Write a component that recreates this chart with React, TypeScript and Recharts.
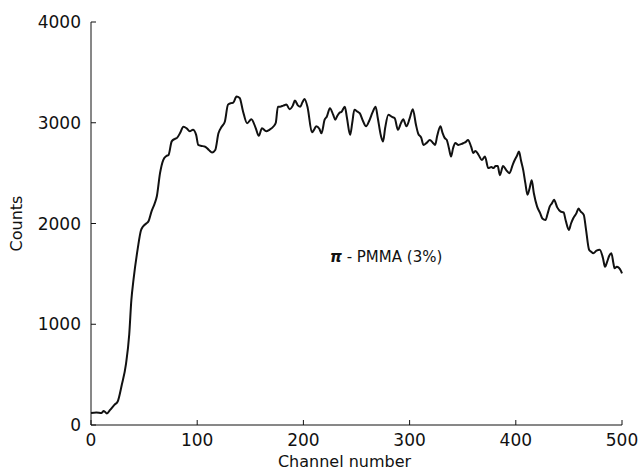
import { LineChart, Line, XAxis, YAxis, Label } from 'recharts'

document.body.style.margin = '0'

// ── Data ──────────────────────────────────────────────────────────────────────

const channels = [
  0, 5, 10, 12, 15, 18, 22, 25, 29, 33, 36, 38, 40, 44, 47, 49, 52, 54, 57, 60,
  62, 65, 68, 71, 73, 76, 79, 81, 84, 87, 90, 93, 96, 99, 101, 104, 107, 111, 114, 117,
  120, 123, 126, 129, 132, 134, 137, 140, 143, 147, 151, 155, 158, 161, 165, 168, 172, 174, 176, 178,
  181, 184, 187, 190, 192, 195, 197, 199, 201, 204, 208, 210, 212, 215, 217, 220, 222, 225, 228, 230,
  232, 234, 236, 239, 241, 244, 246, 248, 251, 253, 256, 259, 262, 265, 268, 270, 273, 275, 277, 280,
  283, 286, 289, 292, 294, 297, 300, 303, 306, 308, 311, 313, 316, 319, 322, 324, 326, 329, 331, 333,
  335, 337, 339, 341, 343, 346, 349, 351, 353, 355, 358, 360, 362, 365, 368, 371, 374, 377, 379, 381,
  383, 385, 388, 391, 394, 397, 399, 401, 403, 405, 407, 409, 411, 413, 415, 417, 420, 423, 425, 428,
  430, 432, 434, 436, 439, 442, 445, 447, 450, 452, 454, 457, 459, 461, 464, 466, 469, 471, 473, 476,
  479, 482, 484, 486, 488, 490, 492, 493, 495, 497, 499, 500,
]

const counts = [
  120, 125, 120, 140, 115, 150, 200, 230, 400, 610, 900, 1240, 1440, 1750, 1930, 1970, 2000, 2020, 2120, 2200,
  2270, 2500, 2630, 2670, 2680, 2815, 2840, 2850, 2900, 2960, 2945, 2915, 2930, 2880, 2780, 2770, 2765, 2730, 2705, 2730,
  2895, 2960, 3010, 3180, 3195, 3200, 3260, 3245, 3120, 2995, 3035, 2950, 2870, 2945, 2915, 2930, 2965, 3000, 3160, 3160,
  3170, 3180, 3135, 3170, 3220, 3170, 3160, 3200, 3235, 3150, 2905, 2930, 2965, 2940, 2895, 3030, 3060, 3145, 3080, 3030,
  3070, 3100, 3110, 3160, 3050, 2880, 3000, 3130, 3110, 3095, 3020, 2965, 3020, 3100, 3160, 3050, 2870, 2815, 2950, 3080,
  3060, 3045, 2930, 3000, 3035, 2965, 3040, 3135, 2980, 2895, 2850, 2780, 2800, 2830, 2800, 2780, 2870, 2965, 2900, 2850,
  2830, 2750, 2665, 2750, 2800, 2780, 2790, 2800, 2810, 2830, 2760, 2700, 2720, 2680, 2630, 2665, 2550, 2560, 2550, 2570,
  2570, 2480, 2570, 2530, 2500, 2580, 2630, 2670, 2715, 2620, 2530, 2400, 2285, 2350, 2430, 2300, 2170, 2100, 2050, 2035,
  2100, 2170, 2200, 2235, 2160, 2120, 2110, 2030, 1935, 2000, 2050, 2100, 2150, 2120, 2085, 1950, 1740, 1720, 1705, 1730,
  1740, 1660, 1570, 1620, 1680, 1705, 1600, 1555, 1570, 1560, 1530, 1505,
]

const xTicks = [0, 100, 200, 300, 400, 500]
const yTicks = [0, 1000, 2000, 3000, 4000]

const data = channels.map((ch, i) => ({ ch, counts: counts[i] }))

const FONT = '"DejaVu Sans", sans-serif'
const tickStyle = { fill: '#111', fontSize: 17, fontFamily: FONT }

export default function App() {
  return (
    <div style={{ position: 'relative', width: 642, height: 472, background: '#fff' }}>
      <LineChart
        width={642}
        height={472}
        data={data}
        margin={{ top: 22, right: 20, left: 0, bottom: 0 }}
      >
        <XAxis
          type="number"
          dataKey="ch"
          domain={[0, 500]}
          ticks={xTicks}
          tick={tickStyle}
          tickSize={-5}
          tickMargin={14}
          stroke="#111"
          height={47}
        >
          <Label
            value="Channel number"
            position="insideBottom"
            offset={5}
            dx={-12}
            style={{ fill: '#111', fontSize: 16, fontFamily: FONT }}
          />
        </XAxis>
        <YAxis
          type="number"
          domain={[0, 4000]}
          ticks={yTicks}
          tick={tickStyle}
          tickSize={-5}
          tickMargin={15}
          stroke="#111"
          width={91}
        >
          <Label
            value="Counts"
            angle={-90}
            position="insideLeft"
            offset={16}
            style={{ fill: '#111', fontSize: 16, fontFamily: FONT, textAnchor: 'middle' }}
          />
        </YAxis>
        <Line
          type="monotone"
          dataKey="counts"
          stroke="#111"
          strokeWidth={2}
          dot={false}
          isAnimationActive={false}
        />
      </LineChart>
      <div
        style={{
          position: 'absolute',
          left: 330,
          top: 248,
          fontFamily: FONT,
          fontSize: 15,
          color: '#111',
          whiteSpace: 'nowrap',
        }}
      >
        <b><i>π</i></b> - PMMA (3%)
      </div>
    </div>
  )
}
